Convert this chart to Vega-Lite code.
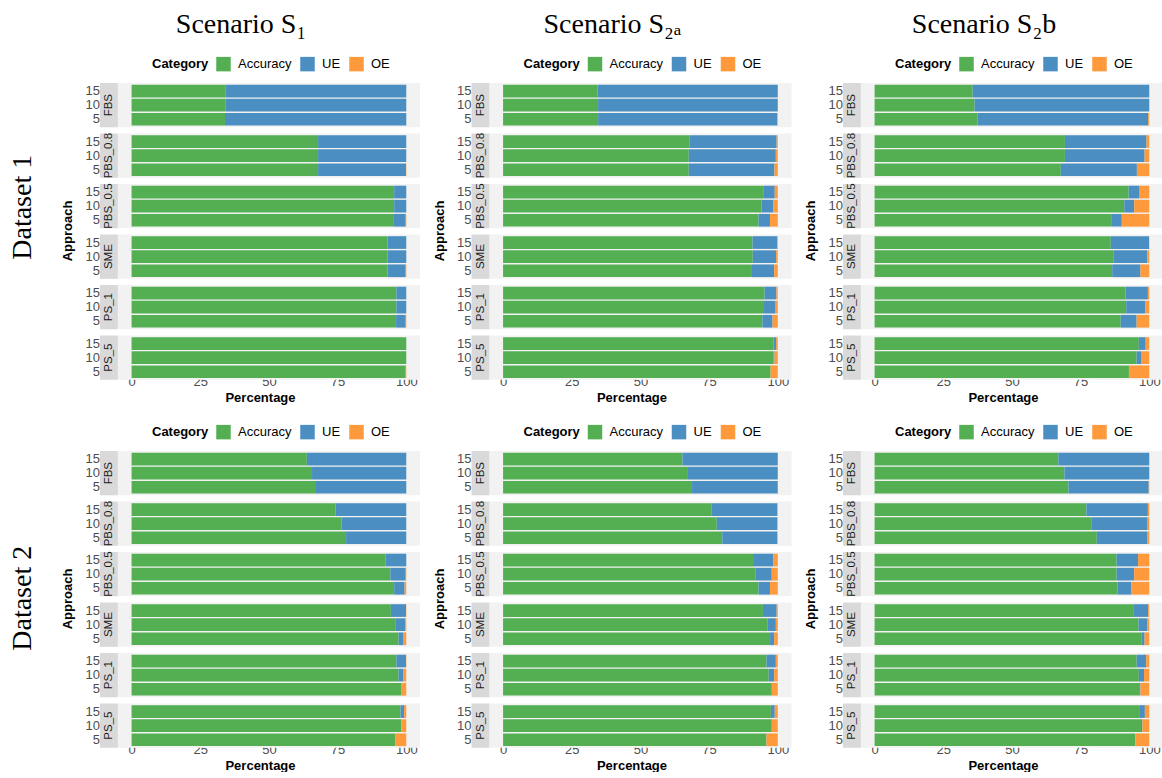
{
  "$schema": "https://vega.github.io/schema/vega-lite/v6.json",
  "background": "white",
  "padding": {"left": 8, "top": 10, "right": 0, "bottom": 0},
  "datasets": {
    "d": [
      {"D":1,"S":"S1","A":"FBS","N":15,"Accuracy":34.3,"UE":65.7,"OE":0},
      {"D":1,"S":"S1","A":"FBS","N":10,"Accuracy":34.3,"UE":65.7,"OE":0},
      {"D":1,"S":"S1","A":"FBS","N":5,"Accuracy":34.0,"UE":66.0,"OE":0},
      {"D":1,"S":"S1","A":"PBS_0.8","N":15,"Accuracy":67.9,"UE":32.1,"OE":0},
      {"D":1,"S":"S1","A":"PBS_0.8","N":10,"Accuracy":67.9,"UE":32.1,"OE":0},
      {"D":1,"S":"S1","A":"PBS_0.8","N":5,"Accuracy":67.9,"UE":32.0,"OE":0.1},
      {"D":1,"S":"S1","A":"PBS_0.5","N":15,"Accuracy":95.6,"UE":4.4,"OE":0},
      {"D":1,"S":"S1","A":"PBS_0.5","N":10,"Accuracy":95.6,"UE":4.4,"OE":0},
      {"D":1,"S":"S1","A":"PBS_0.5","N":5,"Accuracy":95.5,"UE":4.3,"OE":0.2},
      {"D":1,"S":"S1","A":"SME","N":15,"Accuracy":93.2,"UE":6.8,"OE":0},
      {"D":1,"S":"S1","A":"SME","N":10,"Accuracy":93.2,"UE":6.8,"OE":0},
      {"D":1,"S":"S1","A":"SME","N":5,"Accuracy":93.2,"UE":6.6,"OE":0.2},
      {"D":1,"S":"S1","A":"PS_1","N":15,"Accuracy":96.4,"UE":3.6,"OE":0},
      {"D":1,"S":"S1","A":"PS_1","N":10,"Accuracy":96.4,"UE":3.6,"OE":0},
      {"D":1,"S":"S1","A":"PS_1","N":5,"Accuracy":96.3,"UE":3.5,"OE":0.2},
      {"D":1,"S":"S1","A":"PS_5","N":15,"Accuracy":100,"UE":0,"OE":0},
      {"D":1,"S":"S1","A":"PS_5","N":10,"Accuracy":100,"UE":0,"OE":0},
      {"D":1,"S":"S1","A":"PS_5","N":5,"Accuracy":99.8,"UE":0,"OE":0.2},

      {"D":1,"S":"S2a","A":"FBS","N":15,"Accuracy":34.4,"UE":65.6,"OE":0},
      {"D":1,"S":"S2a","A":"FBS","N":10,"Accuracy":34.6,"UE":65.4,"OE":0},
      {"D":1,"S":"S2a","A":"FBS","N":5,"Accuracy":34.6,"UE":65.2,"OE":0.2},
      {"D":1,"S":"S2a","A":"PBS_0.8","N":15,"Accuracy":67.8,"UE":31.8,"OE":0.4},
      {"D":1,"S":"S2a","A":"PBS_0.8","N":10,"Accuracy":67.6,"UE":31.7,"OE":0.7},
      {"D":1,"S":"S2a","A":"PBS_0.8","N":5,"Accuracy":67.6,"UE":31.2,"OE":1.2},
      {"D":1,"S":"S2a","A":"PBS_0.5","N":15,"Accuracy":94.7,"UE":4.2,"OE":1.1},
      {"D":1,"S":"S2a","A":"PBS_0.5","N":10,"Accuracy":94.1,"UE":4.3,"OE":1.6},
      {"D":1,"S":"S2a","A":"PBS_0.5","N":5,"Accuracy":93.0,"UE":4.2,"OE":2.8},
      {"D":1,"S":"S2a","A":"SME","N":15,"Accuracy":90.8,"UE":9.0,"OE":0.2},
      {"D":1,"S":"S2a","A":"SME","N":10,"Accuracy":90.9,"UE":8.5,"OE":0.6},
      {"D":1,"S":"S2a","A":"SME","N":5,"Accuracy":90.6,"UE":8.1,"OE":1.3},
      {"D":1,"S":"S2a","A":"PS_1","N":15,"Accuracy":95.2,"UE":4.3,"OE":0.5},
      {"D":1,"S":"S2a","A":"PS_1","N":10,"Accuracy":95.0,"UE":4.0,"OE":1.0},
      {"D":1,"S":"S2a","A":"PS_1","N":5,"Accuracy":94.4,"UE":3.7,"OE":1.9},
      {"D":1,"S":"S2a","A":"PS_5","N":15,"Accuracy":98.5,"UE":0.9,"OE":0.6},
      {"D":1,"S":"S2a","A":"PS_5","N":10,"Accuracy":98.5,"UE":0.3,"OE":1.2},
      {"D":1,"S":"S2a","A":"PS_5","N":5,"Accuracy":97.4,"UE":0,"OE":2.6},

      {"D":1,"S":"S2b","A":"FBS","N":15,"Accuracy":35.7,"UE":64.3,"OE":0},
      {"D":1,"S":"S2b","A":"FBS","N":10,"Accuracy":36.4,"UE":63.6,"OE":0},
      {"D":1,"S":"S2b","A":"FBS","N":5,"Accuracy":37.5,"UE":62.1,"OE":0.4},
      {"D":1,"S":"S2b","A":"PBS_0.8","N":15,"Accuracy":69.3,"UE":29.7,"OE":1.0},
      {"D":1,"S":"S2b","A":"PBS_0.8","N":10,"Accuracy":69.3,"UE":29.0,"OE":1.7},
      {"D":1,"S":"S2b","A":"PBS_0.8","N":5,"Accuracy":67.8,"UE":27.7,"OE":4.5},
      {"D":1,"S":"S2b","A":"PBS_0.5","N":15,"Accuracy":92.5,"UE":4.0,"OE":3.5},
      {"D":1,"S":"S2b","A":"PBS_0.5","N":10,"Accuracy":90.9,"UE":3.6,"OE":5.5},
      {"D":1,"S":"S2b","A":"PBS_0.5","N":5,"Accuracy":86.4,"UE":3.6,"OE":10.0},
      {"D":1,"S":"S2b","A":"SME","N":15,"Accuracy":86.0,"UE":13.9,"OE":0.1},
      {"D":1,"S":"S2b","A":"SME","N":10,"Accuracy":86.9,"UE":12.4,"OE":0.7},
      {"D":1,"S":"S2b","A":"SME","N":5,"Accuracy":86.5,"UE":10.3,"OE":3.2},
      {"D":1,"S":"S2b","A":"PS_1","N":15,"Accuracy":91.4,"UE":8.1,"OE":0.5},
      {"D":1,"S":"S2b","A":"PS_1","N":10,"Accuracy":91.6,"UE":6.9,"OE":1.5},
      {"D":1,"S":"S2b","A":"PS_1","N":5,"Accuracy":89.6,"UE":5.8,"OE":4.6},
      {"D":1,"S":"S2b","A":"PS_5","N":15,"Accuracy":96.2,"UE":2.5,"OE":1.3},
      {"D":1,"S":"S2b","A":"PS_5","N":10,"Accuracy":95.4,"UE":1.6,"OE":3.0},
      {"D":1,"S":"S2b","A":"PS_5","N":5,"Accuracy":92.6,"UE":0,"OE":7.4},

      {"D":2,"S":"S1","A":"FBS","N":15,"Accuracy":63.8,"UE":36.2,"OE":0},
      {"D":2,"S":"S1","A":"FBS","N":10,"Accuracy":65.7,"UE":34.3,"OE":0},
      {"D":2,"S":"S1","A":"FBS","N":5,"Accuracy":66.8,"UE":33.2,"OE":0},
      {"D":2,"S":"S1","A":"PBS_0.8","N":15,"Accuracy":74.3,"UE":25.7,"OE":0},
      {"D":2,"S":"S1","A":"PBS_0.8","N":10,"Accuracy":76.4,"UE":23.6,"OE":0},
      {"D":2,"S":"S1","A":"PBS_0.8","N":5,"Accuracy":78.1,"UE":21.9,"OE":0},
      {"D":2,"S":"S1","A":"PBS_0.5","N":15,"Accuracy":92.4,"UE":7.6,"OE":0},
      {"D":2,"S":"S1","A":"PBS_0.5","N":10,"Accuracy":94.2,"UE":5.6,"OE":0.2},
      {"D":2,"S":"S1","A":"PBS_0.5","N":5,"Accuracy":95.6,"UE":3.8,"OE":0.6},
      {"D":2,"S":"S1","A":"SME","N":15,"Accuracy":94.4,"UE":5.5,"OE":0.1},
      {"D":2,"S":"S1","A":"SME","N":10,"Accuracy":96.2,"UE":3.4,"OE":0.4},
      {"D":2,"S":"S1","A":"SME","N":5,"Accuracy":97.2,"UE":1.8,"OE":1.0},
      {"D":2,"S":"S1","A":"PS_1","N":15,"Accuracy":96.4,"UE":3.5,"OE":0.1},
      {"D":2,"S":"S1","A":"PS_1","N":10,"Accuracy":97.2,"UE":1.8,"OE":1.0},
      {"D":2,"S":"S1","A":"PS_1","N":5,"Accuracy":98.1,"UE":0.2,"OE":1.7},
      {"D":2,"S":"S1","A":"PS_5","N":15,"Accuracy":97.9,"UE":1.3,"OE":0.8},
      {"D":2,"S":"S1","A":"PS_5","N":10,"Accuracy":98.1,"UE":0.1,"OE":1.8},
      {"D":2,"S":"S1","A":"PS_5","N":5,"Accuracy":96.1,"UE":0,"OE":3.9},

      {"D":2,"S":"S2a","A":"FBS","N":15,"Accuracy":65.3,"UE":34.7,"OE":0},
      {"D":2,"S":"S2a","A":"FBS","N":10,"Accuracy":67.3,"UE":32.7,"OE":0},
      {"D":2,"S":"S2a","A":"FBS","N":5,"Accuracy":68.8,"UE":31.2,"OE":0},
      {"D":2,"S":"S2a","A":"PBS_0.8","N":15,"Accuracy":75.8,"UE":24.0,"OE":0.2},
      {"D":2,"S":"S2a","A":"PBS_0.8","N":10,"Accuracy":77.8,"UE":22.0,"OE":0.2},
      {"D":2,"S":"S2a","A":"PBS_0.8","N":5,"Accuracy":79.8,"UE":20.0,"OE":0.2},
      {"D":2,"S":"S2a","A":"PBS_0.5","N":15,"Accuracy":91.0,"UE":7.4,"OE":1.6},
      {"D":2,"S":"S2a","A":"PBS_0.5","N":10,"Accuracy":92.0,"UE":5.8,"OE":2.2},
      {"D":2,"S":"S2a","A":"PBS_0.5","N":5,"Accuracy":93.0,"UE":4.2,"OE":2.8},
      {"D":2,"S":"S2a","A":"SME","N":15,"Accuracy":94.6,"UE":5.0,"OE":0.4},
      {"D":2,"S":"S2a","A":"SME","N":10,"Accuracy":96.2,"UE":3.1,"OE":0.7},
      {"D":2,"S":"S2a","A":"SME","N":5,"Accuracy":97.2,"UE":1.5,"OE":1.3},
      {"D":2,"S":"S2a","A":"PS_1","N":15,"Accuracy":95.9,"UE":3.4,"OE":0.7},
      {"D":2,"S":"S2a","A":"PS_1","N":10,"Accuracy":96.7,"UE":2.0,"OE":1.3},
      {"D":2,"S":"S2a","A":"PS_1","N":5,"Accuracy":97.7,"UE":0.2,"OE":2.1},
      {"D":2,"S":"S2a","A":"PS_5","N":15,"Accuracy":97.5,"UE":1.4,"OE":1.1},
      {"D":2,"S":"S2a","A":"PS_5","N":10,"Accuracy":97.7,"UE":0.2,"OE":2.1},
      {"D":2,"S":"S2a","A":"PS_5","N":5,"Accuracy":95.9,"UE":0,"OE":4.1},

      {"D":2,"S":"S2b","A":"FBS","N":15,"Accuracy":66.9,"UE":33.1,"OE":0},
      {"D":2,"S":"S2b","A":"FBS","N":10,"Accuracy":69.1,"UE":30.9,"OE":0},
      {"D":2,"S":"S2b","A":"FBS","N":5,"Accuracy":70.6,"UE":29.2,"OE":0.2},
      {"D":2,"S":"S2b","A":"PBS_0.8","N":15,"Accuracy":77.1,"UE":22.4,"OE":0.5},
      {"D":2,"S":"S2b","A":"PBS_0.8","N":10,"Accuracy":79.1,"UE":20.3,"OE":0.6},
      {"D":2,"S":"S2b","A":"PBS_0.8","N":5,"Accuracy":80.9,"UE":18.3,"OE":0.8},
      {"D":2,"S":"S2b","A":"PBS_0.5","N":15,"Accuracy":88.1,"UE":7.8,"OE":4.1},
      {"D":2,"S":"S2b","A":"PBS_0.5","N":10,"Accuracy":88.1,"UE":6.4,"OE":5.5},
      {"D":2,"S":"S2b","A":"PBS_0.5","N":5,"Accuracy":88.5,"UE":4.9,"OE":6.6},
      {"D":2,"S":"S2b","A":"SME","N":15,"Accuracy":94.4,"UE":5.2,"OE":0.4},
      {"D":2,"S":"S2b","A":"SME","N":10,"Accuracy":96.1,"UE":3.1,"OE":0.8},
      {"D":2,"S":"S2b","A":"SME","N":5,"Accuracy":97.1,"UE":1.2,"OE":1.7},
      {"D":2,"S":"S2b","A":"PS_1","N":15,"Accuracy":95.4,"UE":3.5,"OE":1.1},
      {"D":2,"S":"S2b","A":"PS_1","N":10,"Accuracy":96.2,"UE":1.9,"OE":1.9},
      {"D":2,"S":"S2b","A":"PS_1","N":5,"Accuracy":96.6,"UE":0.2,"OE":3.2},
      {"D":2,"S":"S2b","A":"PS_5","N":15,"Accuracy":96.6,"UE":1.8,"OE":1.6},
      {"D":2,"S":"S2b","A":"PS_5","N":10,"Accuracy":97.0,"UE":0.5,"OE":2.5},
      {"D":2,"S":"S2b","A":"PS_5","N":5,"Accuracy":94.9,"UE":0,"OE":5.1}
    ]
  },
  "data": {"name": "d"},
  "transform": [
    {"fold": ["Accuracy", "UE", "OE"], "as": ["Category", "Value"]},
    {"calculate": "indexof(['Accuracy','UE','OE'], datum.Category)", "as": "k"}
  ],
  "spacing": 20,
  "resolve": {"legend": {"color": "independent"}},
  "vconcat": [
    {
      "title": {"text": "Dataset 1", "orient": "left", "anchor": "middle", "font": "Liberation Serif", "fontSize": 28, "fontWeight": "normal", "offset": 25},
      "spacing": 12.5,
      "resolve": {"legend": {"color": "independent"}},
      "hconcat": [
        {
          "title": {"text": "Scenario S₁"},
          "transform": [{"filter": "datum.D == 1 && datum.S == 'S1'"}],
          "facet": {"row": {"field": "A", "type": "nominal", "sort": ["FBS", "PBS_0.8", "PBS_0.5", "SME", "PS_1", "PS_5"], "title": "Approach", "header": {"labels": false}}},
          "spacing": {"row": 4.5, "column": 0},
          "resolve": {"axis": {"y": "independent"}},
          "spec": {
            "width": 320, "height": 44.3,
            "layer": [
              {"transform": [{"filter": "datum.k == 0 && datum.N == 15"}], "mark": {"type": "rect", "color": "#F2F2F2"}, "encoding": {"x": {"datum": -5, "type": "quantitative", "title": "Percentage"}, "x2": {"datum": 105}}},
              {"transform": [{"filter": "datum.k == 0 && datum.N == 15"}], "mark": {"type": "rect", "color": "#D9D9D9"}, "encoding": {"x": {"datum": -11.5, "type": "quantitative", "title": "Percentage"}, "x2": {"datum": -5}}},
              {"transform": [{"filter": "datum.k == 0 && datum.N == 15"}], "mark": {"type": "text", "angle": 270, "fontSize": 11.5, "color": "#1A1A1A", "align": "center", "baseline": "middle"}, "encoding": {"x": {"datum": -8.1, "type": "quantitative", "title": "Percentage"}, "text": {"field": "A"}}},
              {"mark": {"type": "bar"}, "encoding": {
                "x": {"field": "Value", "type": "quantitative", "stack": "zero", "title": "Percentage", "scale": {"domain": [-11.5, 105], "nice": false, "zero": false}, "axis": {"values": [0, 25, 50, 75, 100]}},
                "y": {"field": "N", "type": "nominal", "sort": [15, 10, 5], "title": null, "scale": {"paddingInner": 0.1, "paddingOuter": 0.12}},
                "color": {"field": "Category", "type": "nominal", "title": "Category", "scale": {"domain": ["Accuracy", "UE", "OE"], "range": ["#53AF52", "#4A8EC2", "#FE9A3B"]}},
                "order": {"field": "k", "type": "quantitative"}
              }}
            ]
          }
        },
        {
          "title": {"text": "Scenario S₂ₐ"},
          "transform": [{"filter": "datum.D == 1 && datum.S == 'S2a'"}],
          "facet": {"row": {"field": "A", "type": "nominal", "sort": ["FBS", "PBS_0.8", "PBS_0.5", "SME", "PS_1", "PS_5"], "title": "Approach", "header": {"labels": false}}},
          "spacing": {"row": 4.5, "column": 0},
          "resolve": {"axis": {"y": "independent"}},
          "spec": {
            "width": 320, "height": 44.3,
            "layer": [
              {"transform": [{"filter": "datum.k == 0 && datum.N == 15"}], "mark": {"type": "rect", "color": "#F2F2F2"}, "encoding": {"x": {"datum": -5, "type": "quantitative", "title": "Percentage"}, "x2": {"datum": 105}}},
              {"transform": [{"filter": "datum.k == 0 && datum.N == 15"}], "mark": {"type": "rect", "color": "#D9D9D9"}, "encoding": {"x": {"datum": -11.5, "type": "quantitative", "title": "Percentage"}, "x2": {"datum": -5}}},
              {"transform": [{"filter": "datum.k == 0 && datum.N == 15"}], "mark": {"type": "text", "angle": 270, "fontSize": 11.5, "color": "#1A1A1A", "align": "center", "baseline": "middle"}, "encoding": {"x": {"datum": -8.1, "type": "quantitative", "title": "Percentage"}, "text": {"field": "A"}}},
              {"mark": {"type": "bar"}, "encoding": {
                "x": {"field": "Value", "type": "quantitative", "stack": "zero", "title": "Percentage", "scale": {"domain": [-11.5, 105], "nice": false, "zero": false}, "axis": {"values": [0, 25, 50, 75, 100]}},
                "y": {"field": "N", "type": "nominal", "sort": [15, 10, 5], "title": null, "scale": {"paddingInner": 0.1, "paddingOuter": 0.12}},
                "color": {"field": "Category", "type": "nominal", "title": "Category", "scale": {"domain": ["Accuracy", "UE", "OE"], "range": ["#53AF52", "#4A8EC2", "#FE9A3B"]}},
                "order": {"field": "k", "type": "quantitative"}
              }}
            ]
          }
        },
        {
          "title": {"text": "Scenario S₂b"},
          "transform": [{"filter": "datum.D == 1 && datum.S == 'S2b'"}],
          "facet": {"row": {"field": "A", "type": "nominal", "sort": ["FBS", "PBS_0.8", "PBS_0.5", "SME", "PS_1", "PS_5"], "title": "Approach", "header": {"labels": false}}},
          "spacing": {"row": 4.5, "column": 0},
          "resolve": {"axis": {"y": "independent"}},
          "spec": {
            "width": 320, "height": 44.3,
            "layer": [
              {"transform": [{"filter": "datum.k == 0 && datum.N == 15"}], "mark": {"type": "rect", "color": "#F2F2F2"}, "encoding": {"x": {"datum": -5, "type": "quantitative", "title": "Percentage"}, "x2": {"datum": 105}}},
              {"transform": [{"filter": "datum.k == 0 && datum.N == 15"}], "mark": {"type": "rect", "color": "#D9D9D9"}, "encoding": {"x": {"datum": -11.5, "type": "quantitative", "title": "Percentage"}, "x2": {"datum": -5}}},
              {"transform": [{"filter": "datum.k == 0 && datum.N == 15"}], "mark": {"type": "text", "angle": 270, "fontSize": 11.5, "color": "#1A1A1A", "align": "center", "baseline": "middle"}, "encoding": {"x": {"datum": -8.1, "type": "quantitative", "title": "Percentage"}, "text": {"field": "A"}}},
              {"mark": {"type": "bar"}, "encoding": {
                "x": {"field": "Value", "type": "quantitative", "stack": "zero", "title": "Percentage", "scale": {"domain": [-11.5, 105], "nice": false, "zero": false}, "axis": {"values": [0, 25, 50, 75, 100]}},
                "y": {"field": "N", "type": "nominal", "sort": [15, 10, 5], "title": null, "scale": {"paddingInner": 0.1, "paddingOuter": 0.12}},
                "color": {"field": "Category", "type": "nominal", "title": "Category", "scale": {"domain": ["Accuracy", "UE", "OE"], "range": ["#53AF52", "#4A8EC2", "#FE9A3B"]}},
                "order": {"field": "k", "type": "quantitative"}
              }}
            ]
          }
        }
      ]
    },
    {
      "title": {"text": "Dataset 2", "orient": "left", "anchor": "middle", "font": "Liberation Serif", "fontSize": 28, "fontWeight": "normal", "offset": 25},
      "spacing": 12.5,
      "resolve": {"legend": {"color": "independent"}},
      "hconcat": [
        {
          "transform": [{"filter": "datum.D == 2 && datum.S == 'S1'"}],
          "facet": {"row": {"field": "A", "type": "nominal", "sort": ["FBS", "PBS_0.8", "PBS_0.5", "SME", "PS_1", "PS_5"], "title": "Approach", "header": {"labels": false}}},
          "spacing": {"row": 4.5, "column": 0},
          "resolve": {"axis": {"y": "independent"}},
          "spec": {
            "width": 320, "height": 44.3,
            "layer": [
              {"transform": [{"filter": "datum.k == 0 && datum.N == 15"}], "mark": {"type": "rect", "color": "#F2F2F2"}, "encoding": {"x": {"datum": -5, "type": "quantitative", "title": "Percentage"}, "x2": {"datum": 105}}},
              {"transform": [{"filter": "datum.k == 0 && datum.N == 15"}], "mark": {"type": "rect", "color": "#D9D9D9"}, "encoding": {"x": {"datum": -11.5, "type": "quantitative", "title": "Percentage"}, "x2": {"datum": -5}}},
              {"transform": [{"filter": "datum.k == 0 && datum.N == 15"}], "mark": {"type": "text", "angle": 270, "fontSize": 11.5, "color": "#1A1A1A", "align": "center", "baseline": "middle"}, "encoding": {"x": {"datum": -8.1, "type": "quantitative", "title": "Percentage"}, "text": {"field": "A"}}},
              {"mark": {"type": "bar"}, "encoding": {
                "x": {"field": "Value", "type": "quantitative", "stack": "zero", "title": "Percentage", "scale": {"domain": [-11.5, 105], "nice": false, "zero": false}, "axis": {"values": [0, 25, 50, 75, 100]}},
                "y": {"field": "N", "type": "nominal", "sort": [15, 10, 5], "title": null, "scale": {"paddingInner": 0.1, "paddingOuter": 0.12}},
                "color": {"field": "Category", "type": "nominal", "title": "Category", "scale": {"domain": ["Accuracy", "UE", "OE"], "range": ["#53AF52", "#4A8EC2", "#FE9A3B"]}},
                "order": {"field": "k", "type": "quantitative"}
              }}
            ]
          }
        },
        {
          "transform": [{"filter": "datum.D == 2 && datum.S == 'S2a'"}],
          "facet": {"row": {"field": "A", "type": "nominal", "sort": ["FBS", "PBS_0.8", "PBS_0.5", "SME", "PS_1", "PS_5"], "title": "Approach", "header": {"labels": false}}},
          "spacing": {"row": 4.5, "column": 0},
          "resolve": {"axis": {"y": "independent"}},
          "spec": {
            "width": 320, "height": 44.3,
            "layer": [
              {"transform": [{"filter": "datum.k == 0 && datum.N == 15"}], "mark": {"type": "rect", "color": "#F2F2F2"}, "encoding": {"x": {"datum": -5, "type": "quantitative", "title": "Percentage"}, "x2": {"datum": 105}}},
              {"transform": [{"filter": "datum.k == 0 && datum.N == 15"}], "mark": {"type": "rect", "color": "#D9D9D9"}, "encoding": {"x": {"datum": -11.5, "type": "quantitative", "title": "Percentage"}, "x2": {"datum": -5}}},
              {"transform": [{"filter": "datum.k == 0 && datum.N == 15"}], "mark": {"type": "text", "angle": 270, "fontSize": 11.5, "color": "#1A1A1A", "align": "center", "baseline": "middle"}, "encoding": {"x": {"datum": -8.1, "type": "quantitative", "title": "Percentage"}, "text": {"field": "A"}}},
              {"mark": {"type": "bar"}, "encoding": {
                "x": {"field": "Value", "type": "quantitative", "stack": "zero", "title": "Percentage", "scale": {"domain": [-11.5, 105], "nice": false, "zero": false}, "axis": {"values": [0, 25, 50, 75, 100]}},
                "y": {"field": "N", "type": "nominal", "sort": [15, 10, 5], "title": null, "scale": {"paddingInner": 0.1, "paddingOuter": 0.12}},
                "color": {"field": "Category", "type": "nominal", "title": "Category", "scale": {"domain": ["Accuracy", "UE", "OE"], "range": ["#53AF52", "#4A8EC2", "#FE9A3B"]}},
                "order": {"field": "k", "type": "quantitative"}
              }}
            ]
          }
        },
        {
          "transform": [{"filter": "datum.D == 2 && datum.S == 'S2b'"}],
          "facet": {"row": {"field": "A", "type": "nominal", "sort": ["FBS", "PBS_0.8", "PBS_0.5", "SME", "PS_1", "PS_5"], "title": "Approach", "header": {"labels": false}}},
          "spacing": {"row": 4.5, "column": 0},
          "resolve": {"axis": {"y": "independent"}},
          "spec": {
            "width": 320, "height": 44.3,
            "layer": [
              {"transform": [{"filter": "datum.k == 0 && datum.N == 15"}], "mark": {"type": "rect", "color": "#F2F2F2"}, "encoding": {"x": {"datum": -5, "type": "quantitative", "title": "Percentage"}, "x2": {"datum": 105}}},
              {"transform": [{"filter": "datum.k == 0 && datum.N == 15"}], "mark": {"type": "rect", "color": "#D9D9D9"}, "encoding": {"x": {"datum": -11.5, "type": "quantitative", "title": "Percentage"}, "x2": {"datum": -5}}},
              {"transform": [{"filter": "datum.k == 0 && datum.N == 15"}], "mark": {"type": "text", "angle": 270, "fontSize": 11.5, "color": "#1A1A1A", "align": "center", "baseline": "middle"}, "encoding": {"x": {"datum": -8.1, "type": "quantitative", "title": "Percentage"}, "text": {"field": "A"}}},
              {"mark": {"type": "bar"}, "encoding": {
                "x": {"field": "Value", "type": "quantitative", "stack": "zero", "title": "Percentage", "scale": {"domain": [-11.5, 105], "nice": false, "zero": false}, "axis": {"values": [0, 25, 50, 75, 100]}},
                "y": {"field": "N", "type": "nominal", "sort": [15, 10, 5], "title": null, "scale": {"paddingInner": 0.1, "paddingOuter": 0.12}},
                "color": {"field": "Category", "type": "nominal", "title": "Category", "scale": {"domain": ["Accuracy", "UE", "OE"], "range": ["#53AF52", "#4A8EC2", "#FE9A3B"]}},
                "order": {"field": "k", "type": "quantitative"}
              }}
            ]
          }
        }
      ]
    }
  ],
  "config": {
    "font": "Liberation Sans",
    "view": {"stroke": null},
    "axis": {"domain": false, "grid": false, "labelColor": "#4D4D4D", "labelFontSize": 13, "tickColor": "#333333", "tickSize": 3, "titleFontSize": 13, "titleFontWeight": "bold", "titleColor": "#000000", "minExtent": 0},
    "axisX": {"labelPadding": 1, "titlePadding": 3, "offset": -9},
    "axisY": {"labelPadding": 2, "minExtent": 0, "zindex": 1, "offset": -4.5},
    "header": {"titleFontSize": 13, "titleFontWeight": "bold", "titleColor": "#000000", "titleFont": "Liberation Sans", "titlePadding": 0, "labelPadding": 0},
    "legend": {"orient": "none", "legendX": 52, "legendY": -26.5, "direction": "horizontal", "titleOrient": "left", "titleFontSize": 13, "titleFontWeight": "bold", "titleColor": "#000000", "labelFontSize": 13, "labelColor": "#000000", "symbolType": "square", "symbolSize": 210, "symbolStrokeWidth": 0, "symbolOpacity": 1, "columnPadding": 8, "labelOffset": 7, "titlePadding": 7},
    "title": {"font": "Liberation Serif", "fontSize": 28, "fontWeight": "normal", "color": "#000000", "anchor": "middle", "frame": "bounds", "offset": 18}
  }
}
